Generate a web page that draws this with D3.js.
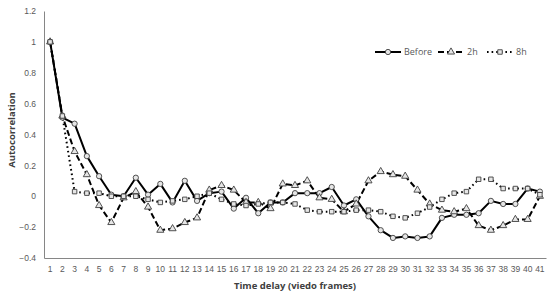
<!DOCTYPE html>
<html>
<head>
<meta charset="utf-8">
<script src="https://cdn.jsdelivr.net/npm/d3@7"></script>
<style>
  body { margin: 0; background: #fff; }
  svg { font-family: "Open Sans", "Noto Sans", sans-serif; }
  .tick-label { fill: #595959; font-size: 8.5px; }
  .axis-title { fill: #404040; font-size: 9.5px; font-weight: bold; }
  .legend-label { fill: #595959; font-size: 9px; }
</style>
</head>
<body>
<div id="chart"></div>
<script>
// time delay (video frames)
const delays = d3.range(1, 42);

const before = [1.0, 0.51, 0.47, 0.26, 0.13, 0.01, 0.0, 0.12, 0.01, 0.08,
  -0.04, 0.10, -0.03, 0.02, 0.03, -0.08, -0.01, -0.11, -0.04, -0.04,
  0.02, 0.02, 0.02, 0.06, -0.06, -0.02, -0.13, -0.22, -0.27, -0.26,
  -0.27, -0.26, -0.14, -0.12, -0.12, -0.11, -0.03, -0.05, -0.05, 0.05, 0.03];

const h2 = [1.0, 0.52, 0.29, 0.14, -0.06, -0.17, -0.01, 0.03, -0.07, -0.22,
  -0.21, -0.17, -0.14, 0.04, 0.07, 0.04, -0.04, -0.04, -0.08, 0.08,
  0.07, 0.10, -0.01, -0.02, -0.10, -0.05, 0.10, 0.16, 0.14, 0.13,
  0.04, -0.05, -0.09, -0.10, -0.08, -0.19, -0.22, -0.19, -0.15, -0.15, 0.0];

const h8 = [1.0, 0.52, 0.03, 0.02, 0.02, 0.0, 0.0, 0.0, -0.02, -0.04,
  -0.03, -0.02, 0.0, 0.02, -0.02, -0.05, -0.06, -0.05, -0.04, -0.04,
  -0.05, -0.09, -0.10, -0.10, -0.10, -0.09, -0.09, -0.10, -0.13, -0.14,
  -0.11, -0.07, -0.02, 0.02, 0.03, 0.11, 0.11, 0.05, 0.05, 0.05, 0.01];

const yTicks = [-0.4, -0.2, 0, 0.2, 0.4, 0.6, 0.8, 1, 1.2];

const seriesNames = ["Before", "2h", "8h"];

const series = [
  { name: seriesNames[0], values: before, dash: null, marker: "circle" },
  { name: seriesNames[1], values: h2, dash: "6,3", marker: "triangle" },
  { name: seriesNames[2], values: h8, dash: "1.6,3", marker: "square" }
];

const width = 550, height = 296;
const margin = { top: 11, right: 4, bottom: 38, left: 44 };

const svg = d3.select("#chart").append("svg")
  .attr("width", width)
  .attr("height", height);

const x = d3.scaleBand()
  .domain(delays)
  .range([margin.left, width - margin.right]);

const y = d3.scaleLinear()
  .domain([-0.4, 1.2])
  .range([height - margin.bottom, margin.top]);

const cx = d => x(d) + x.bandwidth() / 2;

// y axis
const yAxis = svg.append("g")
  .attr("transform", "translate(" + margin.left + ",0)")
  .call(d3.axisLeft(y).tickValues(yTicks).tickSize(0).tickPadding(8)
    .tickFormat(d => d3.format("")(+d.toFixed(1))));
yAxis.select(".domain").attr("stroke", "#868686").attr("stroke-width", 1);
yAxis.selectAll("text").attr("class", "tick-label").attr("font-family", null).attr("font-size", null);

// x axis
const xAxis = svg.append("g")
  .attr("transform", "translate(0," + y(-0.4) + ")")
  .call(d3.axisBottom(x).tickSize(0).tickPadding(8));
xAxis.select(".domain").attr("stroke", "#868686").attr("stroke-width", 1);
xAxis.selectAll("text").attr("class", "tick-label").attr("font-family", null).attr("font-size", null);

// axis titles
svg.append("text")
  .attr("class", "axis-title")
  .attr("x", (margin.left + width - margin.right) / 2)
  .attr("y", 289)
  .attr("text-anchor", "middle")
  .text("Time delay (viedo frames)");

svg.append("text")
  .attr("class", "axis-title")
  .attr("transform", "translate(15,130) rotate(-90)")
  .attr("text-anchor", "middle")
  .text("Autocorrelation");

const symbols = {
  circle: d3.symbol().type(d3.symbolCircle).size(22),
  triangle: d3.symbol().type(d3.symbolTriangle).size(22),
  square: d3.symbol().type(d3.symbolSquare).size(20)
};

const line = d3.line()
  .x((d, i) => cx(delays[i]))
  .y(d => y(d));

series.forEach(s => {
  svg.append("path")
    .datum(s.values)
    .attr("fill", "none")
    .attr("stroke", "#000")
    .attr("stroke-width", 2)
    .attr("stroke-dasharray", s.dash)
    .attr("stroke-linejoin", "round")
    .attr("d", line);
});

series.forEach(s => {
  svg.append("g").selectAll("path")
    .data(s.values)
    .join("path")
    .attr("transform", (d, i) => "translate(" + cx(delays[i]) + "," + y(d) + ")")
    .attr("d", symbols[s.marker])
    .attr("fill", "#e6e6e6")
    .attr("stroke", "#404040")
    .attr("stroke-width", 0.9);
});

// legend
const legendX = [375, 438, 487];
const legend = svg.append("g");
series.forEach((s, i) => {
  const g = legend.append("g").attr("transform", "translate(" + legendX[i] + ",52)");
  g.append("line")
    .attr("x1", 0).attr("x2", 26)
    .attr("stroke", "#000")
    .attr("stroke-width", 2)
    .attr("stroke-dasharray", s.dash);
  g.append("path")
    .attr("transform", "translate(13,0)")
    .attr("d", symbols[s.marker])
    .attr("fill", "#e6e6e6")
    .attr("stroke", "#404040")
    .attr("stroke-width", 0.9);
  g.append("text")
    .attr("class", "legend-label")
    .attr("x", 29)
    .attr("dy", "0.35em")
    .text(s.name);
});
</script>
</body>
</html>
